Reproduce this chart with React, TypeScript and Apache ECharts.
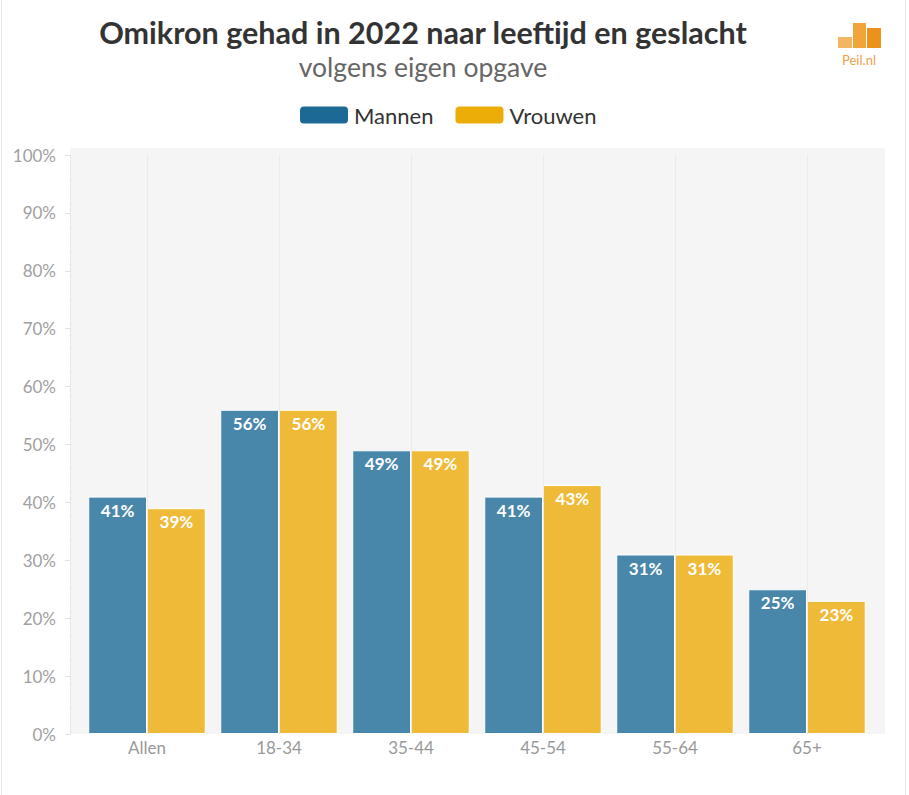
import React, { useEffect, useRef } from "react";
import * as echarts from "echarts";

const categories = ["Allen", "18-34", "35-44", "45-54", "55-64", "65+"];
const mannen = [41, 56, 49, 41, 31, 25];
const vrouwen = [39, 56, 49, 43, 31, 23];
const titleText = "Omikron gehad in 2022 naar leeftijd en geslacht";
const subtitleText = "volgens eigen opgave";
const FONT = "Lato, 'Open Sans', sans-serif";

export default function App() {
  const ref = useRef<HTMLDivElement>(null);
  useEffect(() => {
    document.body.style.margin = "0";
    const chart = echarts.init(ref.current!, null, { renderer: "svg" });
    chart.setOption({
      animation: false,
      backgroundColor: "#ffffff",
      textStyle: { fontFamily: FONT },
      graphic: [
        { type: "rect", z: -10, shape: { x: 70, y: 148, width: 815, height: 586 }, style: { fill: "#f5f5f5" } },
        { type: "line", z: 100, shape: { x1: 1.5, y1: 0, x2: 1.5, y2: 795 }, style: { stroke: "#e6e6e6", lineWidth: 1 } },
        { type: "line", z: 100, shape: { x1: 905.5, y1: 0, x2: 905.5, y2: 795 }, style: { stroke: "#e6e6e6", lineWidth: 1 } },
        { type: "text", x: 423, y: 32, style: { text: titleText, fontFamily: FONT, fontSize: 30.5, fontWeight: "bold", fill: "#333333", textAlign: "center", textVerticalAlign: "middle" } },
        { type: "text", x: 423, y: 67, style: { text: subtitleText, fontFamily: FONT, fontSize: 26.5, fill: "#666666", textAlign: "center", textVerticalAlign: "middle" } },
        { type: "rect", shape: { x: 838, y: 37, width: 14, height: 11 }, style: { fill: "#f4b563" } },
        { type: "rect", shape: { x: 853, y: 23, width: 13, height: 25 }, style: { fill: "#f1a43a" } },
        { type: "rect", shape: { x: 867, y: 28, width: 14, height: 20 }, style: { fill: "#ea921c" } },
        { type: "text", x: 859, y: 60, style: { text: "Peil.nl", fontFamily: FONT, fontSize: 13, fill: "#eea04a", textAlign: "center", textVerticalAlign: "middle" } },
      ],
      legend: {
        top: 99,
        left: 293,
        itemWidth: 50,
        itemHeight: 19,
        itemGap: 20,
        icon: "roundRect",
        textStyle: { fontSize: 22, color: "#333333", fontFamily: FONT },
        data: [
          { name: "Mannen", itemStyle: { color: "#1d6996" } },
          { name: "Vrouwen", itemStyle: { color: "#edad08" } },
        ],
      },
      grid: { left: 81, right: 36, top: 155, bottom: 61, containLabel: false },
      xAxis: {
        type: "category",
        data: categories,
        axisLine: { show: false },
        axisTick: { show: false },
        axisLabel: { color: "#999999", fontSize: 17, margin: 5, fontFamily: FONT },
        splitLine: { show: false },
      },
      yAxis: {
        type: "value",
        min: 0,
        max: 100,
        interval: 10,
        offset: 11,
        axisLine: { show: true, lineStyle: { color: "#e3e3e3", type: "dashed", width: 1 } },
        axisTick: { show: true, length: 5, lineStyle: { color: "#e3e3e3" } },
        axisLabel: { formatter: "{value}%", color: "#a0a0a0", fontSize: 17, margin: 14, fontFamily: FONT },
        splitLine: { show: false },
      },
      series: [
        {
          name: "grid-lines",
          type: "line",
          data: [],
          z: 1,
          silent: true,
          markLine: {
            silent: true,
            symbol: "none",
            label: { show: false },
            lineStyle: { color: "#ebebeb", type: "solid", width: 1 },
            data: categories.map((c) => ({ xAxis: c })),
          },
        },
        {
          name: "Mannen",
          type: "bar",
          data: mannen,
          z: 2,
          barGap: "0%",
          barCategoryGap: "11%",
          itemStyle: { color: "#4886aa", borderColor: "#ffffff", borderWidth: 1 },
          label: { show: true, position: "insideTop", distance: 5, formatter: "{c}%", color: "#ffffff", fontWeight: "bold", fontSize: 17, fontFamily: FONT },
        },
        {
          name: "Vrouwen",
          type: "bar",
          data: vrouwen,
          z: 2,
          itemStyle: { color: "#efba37", borderColor: "#ffffff", borderWidth: 1 },
          label: { show: true, position: "insideTop", distance: 5, formatter: "{c}%", color: "#ffffff", fontWeight: "bold", fontSize: 17, fontFamily: FONT },
        },
      ],
    });
    return () => chart.dispose();
  }, []);
  return <div ref={ref} style={{ width: 909, height: 795 }} />;
}
